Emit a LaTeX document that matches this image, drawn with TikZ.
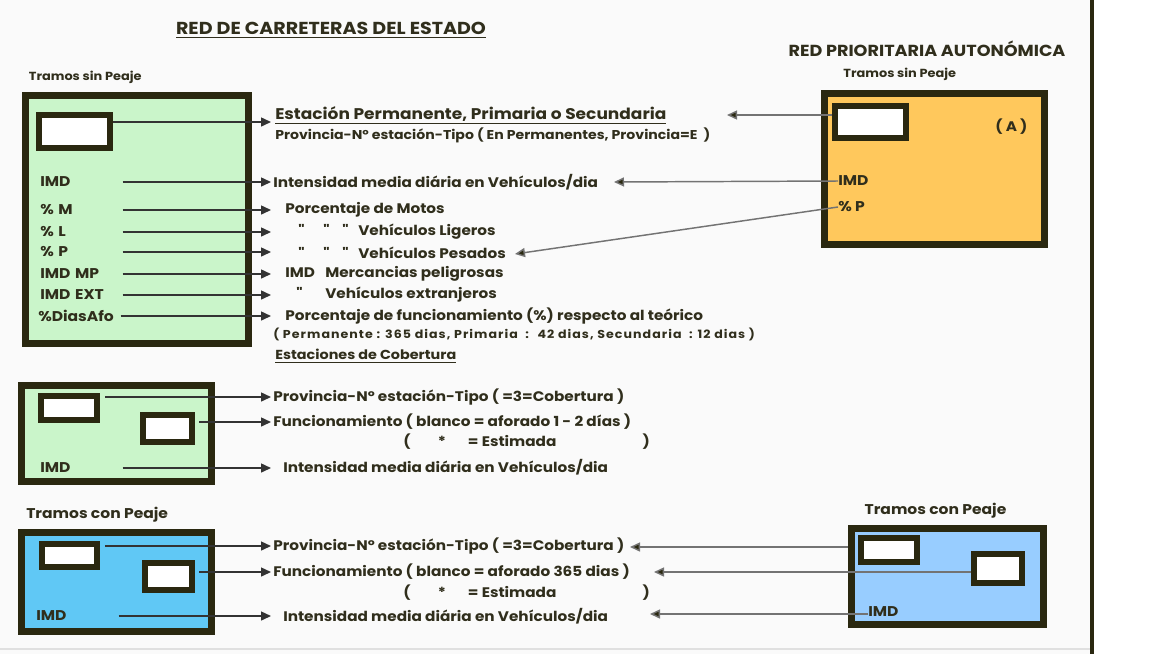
\documentclass[tikz,border=0pt]{standalone}
\usepackage{fontspec}
\setmainfont{Poppins}[FakeStretch=1.1]
\usepackage{xcolor}
\usetikzlibrary{arrows.meta, positioning}

\definecolor{marco}{RGB}{42,40,16}
\definecolor{tinta}{RGB}{48,46,28}
\definecolor{verde}{RGB}{202,245,202}
\definecolor{naranja}{RGB}{255,200,92}
\definecolor{azul}{RGB}{96,200,245}
\definecolor{celeste}{RGB}{152,205,255}
\definecolor{fondo}{RGB}{250,250,250}

\newcommand{\comi}{\textquotedbl}

\begin{document}
\begin{tikzpicture}[x=0.75pt, y=-0.75pt,
    every node/.style={inner sep=0pt, text=tinta, font=\fontsize{10.4}{12}\selectfont\bfseries},
    caja/.style={draw=marco, line width=5.25pt},
    ventana/.style={draw=marco, fill=white, line width=4.5pt},
    etiq/.style={anchor=west, text width=61.5pt, font=\fontsize{10.6}{12}\selectfont\bfseries},
    etiqr/.style={anchor=west, font=\fontsize{10.6}{12}\selectfont\bfseries},
    texto/.style={anchor=west},
    grande/.style={anchor=west, font=\fontsize{11.6}{13}\selectfont\bfseries},
    subtit/.style={anchor=west, font=\fontsize{9.8}{12}\selectfont\bfseries},
    chico/.style={anchor=west, font=\fontsize{9.6}{11}\selectfont\bfseries},
    rotulo/.style={font=\fontsize{8.8}{10}\selectfont\bfseries},
    rotulo2/.style={font=\fontsize{10.6}{12}\selectfont\bfseries},
    nota/.style={anchor=west, font=\fontsize{8.6}{10}\selectfont\bfseries\addfontfeatures{LetterSpace=9}},
    titulo/.style={font=\fontsize{13}{15}\selectfont\bfseries},
    flecha/.style={draw=black!80, line width=1.1pt, -{Triangle[length=7.5pt, width=6.75pt]}},
    flechab/.style={draw=black!55, line width=1.1pt, -{Triangle[length=7.5pt, width=6.75pt, fill=marco]}},
  ]
  \useasboundingbox (0,0) rectangle (1164,654);
  \fill[fondo] (0,0) rectangle (1092,654);
  \draw[marco, line width=3pt] (1092,0) -- (1092,654);
  \draw[black!12, line width=1pt] (0,649) -- (1090,649);

  \node[titulo] (t1) at (331,30) {\underline{RED DE CARRETERAS DEL ESTADO}};
  \node[titulo, font=\fontsize{12}{14}\selectfont\bfseries] (t2) at (927,49) {RED PRIORITARIA AUTONÓMICA};

  % red del estado, tramos sin peaje
  \node[caja, fill=verde, minimum width=167.25pt, minimum height=186pt] (gbox) at (137,219.5) {};
  \node[rotulo, anchor=south west, above right=6pt and 0pt of gbox.north west, xshift=5pt] {Tramos sin Peaje};
  \node[ventana, minimum width=53.25pt, minimum height=24.75pt] (gven) at (74.5,131.5) {};
  \node[etiq] (gimd) at (40,182) {IMD};
  \node[etiq] (gm) at (40,210) {\% M};
  \node[etiq] (gl) at (40,232) {\% L};
  \node[etiq] (gp) at (40,252) {\% P};
  \node[etiq] (gmp) at (40,274) {IMD MP};
  \node[etiq] (gext) at (40,295) {IMD EXT};
  \node[etiq] (gdias) at (38,316) {\%DiasAfo};
  \coordinate (lt) at (271,0);
  \coordinate (et) at (271,122);

  \node[grande] (estt) at (275,115) {\underline{Estación Permanente, Primaria o Secundaria}};
  \node[chico] (prov) at (275,135) {Provincia-Nº estación-Tipo ( En Permanentes, Provincia=E \ )};
  \node[texto] (imdt) at (273,182) {Intensidad media diária en Vehículos/dia};
  \node[texto] (mt) at (285,210) {Porcentaje de Motos};
  \node[texto] (lt2) at (298,232) {\makebox[18.75pt][l]{\comi}\makebox[14.25pt][l]{\comi}\makebox[12pt][l]{\comi}Vehículos Ligeros};
  \node[texto] (pt) at (298,253) {\makebox[18.75pt][l]{\comi}\makebox[14.25pt][l]{\comi}\makebox[12pt][l]{\comi}Vehículos Pesados};
  \node[texto] (mpt) at (285,274) {\makebox[30pt][l]{IMD}Mercancias peligrosas};
  \node[texto] (extt) at (296,295) {\makebox[21.75pt][l]{\comi}Vehículos extranjeros};
  \node[texto] (diast) at (285,316) {Porcentaje de funcionamiento (\%) respecto al teórico};
  \node[nota] (diasn) at (273,334) {( Permanente : 365 dias, Primaria \ : \ 42 dias, Secundaria \ : 12 dias )};

  \draw[flecha] (gven.east |- et) -- (et);
  \foreach \n in {gimd, gm, gl, gp, gmp, gext, gdias}
    \draw[flecha] (\n.east) -- (\n.east -| lt);

  % estaciones de cobertura
  \node[subtit] (cobt) at (275,356) {\underline{Estaciones de Cobertura}};
  \node[caja, fill=verde, minimum width=142.5pt, minimum height=72pt] (cbox) at (116.5,433.5) {};
  \node[ventana, minimum width=42pt, minimum height=18pt] (cven1) at (69,408) {};
  \node[ventana, minimum width=36.75pt, minimum height=20.25pt] (cven2) at (167.5,428.5) {};
  \node[etiq] (cimd) at (40,468) {IMD};
  \coordinate (c1) at (271,397);
  \coordinate (c2) at (271,422);
  \node[texto] (cprov) at (273,397) {Provincia-Nº estación-Tipo ( =3=Cobertura )};
  \node[texto] (cfun) at (273,422) {Funcionamiento ( blanco = aforado 1 - 2 días )};
  \node[texto] (cest) at (403,442) {\makebox[26pt][l]{(}\makebox[22.5pt][l]{*}\makebox[131pt][l]{= Estimada})};
  \node[texto] (cimdt) at (283,467) {Intensidad media diária en Vehículos/dia};
  \draw[flecha, shorten <=4pt] (cven1.east |- c1) -- (c1);
  \draw[flecha, shorten <=3pt] (cven2.east |- c2) -- (c2);
  \draw[flecha] (cimd.east) -- (cimd.east -| lt);

  % tramos con peaje
  \node[caja, fill=azul, minimum width=142.5pt, minimum height=74.25pt] (pbox) at (116.5,582) {};
  \node[rotulo2, anchor=south west, above right=5pt and 0pt of pbox.north west, xshift=6pt] {Tramos con Peaje};
  \node[ventana, minimum width=41.25pt, minimum height=17.25pt] (pven1) at (69.5,555.5) {};
  \node[ventana, minimum width=35.25pt, minimum height=20.25pt] (pven2) at (168.5,576.5) {};
  \node[etiq] (pimd) at (36,616) {IMD};
  \coordinate (p1) at (271,546);
  \coordinate (p2) at (271,572);
  \node[texto] (pprov) at (273,546) {Provincia-Nº estación-Tipo ( =3=Cobertura )};
  \node[texto] (pfun) at (273,572) {Funcionamiento ( blanco = aforado 365 dias )};
  \node[texto] (pest) at (403,593) {\makebox[26pt][l]{(}\makebox[22.5pt][l]{*}\makebox[131pt][l]{= Estimada})};
  \node[texto] (pimdt) at (283,616) {Intensidad media diária en Vehículos/dia};
  \draw[flecha, shorten <=4pt] (pven1.east |- p1) -- (p1);
  \draw[flecha, shorten <=3pt] (pven2.east |- p2) -- (p2);
  \draw[flecha] (pimd.east) -- (pimd.east -| lt);

  % red prioritaria autonomica
  \node[caja, fill=naranja, minimum width=165pt, minimum height=113.25pt] (abox) at (934.5,169) {};
  \node[rotulo, above=7pt of abox.north, xshift=-26pt] {Tramos sin Peaje};
  \node[ventana, minimum width=53.25pt, minimum height=24pt] (aven) at (870.5,122) {};
  \node[texto] (aa) at (995,127) {( A )};
  \node[etiqr] (aimd) at (838,181) {IMD};
  \node[etiqr] (ap) at (838,207) {\% P};
  \coordinate (a1) at (727,115);
  \coordinate (a2) at (614,182);
  \coordinate (a3) at (515,254);
  \draw[flechab] (a1 -| aven.west) -- (a1);
  \draw[flechab] (aimd.west) -- (a2);
  \draw[flechab] (ap.west) -- (a3);

  \node[caja, fill=celeste, minimum width=144pt, minimum height=72pt] (bbox) at (947.5,576.5) {};
  \node[rotulo2, above=5pt of bbox.north, xshift=-9pt] {Tramos con Peaje};
  \node[ventana, minimum width=42pt, minimum height=18pt] (bven1) at (889,550) {};
  \node[ventana, minimum width=36pt, minimum height=21.75pt] (bven2) at (998,568.5) {};
  \node[etiqr] (bimd) at (868,612) {IMD};
  \coordinate (b1) at (630,547);
  \coordinate (b2) at (654,572);
  \coordinate (b3) at (650,614);
  \draw[flechab] (b1 -| bbox.west) -- (b1);
  \draw[flechab] (b2 -| bven2.west) -- (b2);
  \draw[flechab] (b3 -| bimd.west) -- (b3);
\end{tikzpicture}
\end{document}
